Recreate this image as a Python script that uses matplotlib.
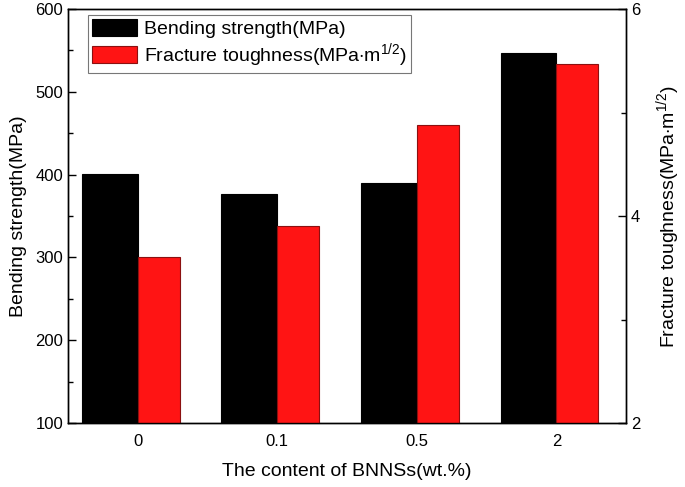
import matplotlib
matplotlib.use("Agg")
import matplotlib.pyplot as plt
import numpy as np

plt.rcParams['font.family'] = ['Liberation Sans', 'DejaVu Sans']
plt.rcParams['mathtext.fontset'] = 'custom'
plt.rcParams['mathtext.rm'] = 'Liberation Sans'
plt.rcParams['mathtext.it'] = 'Liberation Sans'

categories = ['0', '0.1', '0.5', '2']
bending = [401, 376, 390, 547]
toughness = [3.60, 3.90, 4.88, 5.47]

fig = plt.figure(figsize=(6.85, 4.87), dpi=100)
ax = fig.add_axes([0.0993, 0.1314, 0.8147, 0.8501])
ax2 = ax.twinx()

x = np.arange(len(categories))
b1 = ax.bar(x - 0.4, bending, width=0.4, align='edge', color='black', edgecolor='black',
            linewidth=0.8, label='Bending strength(MPa)')
b2 = ax2.bar(x, toughness, width=0.3, align='edge', color='#ff1414',
             edgecolor='#8b1010', linewidth=0.8,
             label=r'Fracture toughness(MPa$\cdot$m$^{1/2}$)')

ax.set_xlim(-0.5, 3.5)
ax.set_ylim(100, 600)
ax2.set_ylim(2, 6)
ax.set_xticks(x)
ax.set_xticklabels(categories)
ax.set_yticks([100, 200, 300, 400, 500, 600])
ax.set_yticks([150, 250, 350, 450, 550], minor=True)
ax2.set_yticks([2, 4, 6])
ax2.set_yticks([3, 5], minor=True)

ax.tick_params(axis='x', length=0, labelsize=12, pad=8)
ax.tick_params(axis='y', which='major', direction='in', length=6, width=1, labelsize=12)
ax.tick_params(axis='y', which='minor', direction='in', length=3.5, width=1)
ax2.tick_params(axis='y', which='major', direction='in', length=6, width=1, labelsize=12)
ax2.tick_params(axis='y', which='minor', direction='in', length=3.5, width=1)

for a in (ax, ax2):
    for s in a.spines.values():
        s.set_linewidth(1.0)

ax.set_xlabel('The content of BNNSs(wt.%)', fontsize=14, labelpad=10)
ax.set_ylabel('Bending strength(MPa)', fontsize=14, labelpad=6)
ax2.set_ylabel(r'Fracture toughness(MPa$\cdot$m$^{1/2}$)', fontsize=14, labelpad=10)

leg = ax.legend([b1, b2], [b1.get_label(), b2.get_label()],
                loc='upper left', bbox_to_anchor=(0.036, 0.985), fontsize=14,
                frameon=True, fancybox=False, edgecolor='#555555',
                handlelength=2.3, handleheight=0.95, borderpad=0.2,
                labelspacing=0.15, handletextpad=0.35, borderaxespad=0)
leg.get_frame().set_linewidth(0.8)
leg.set_zorder(10)

fig.savefig('out.png', dpi=100)
